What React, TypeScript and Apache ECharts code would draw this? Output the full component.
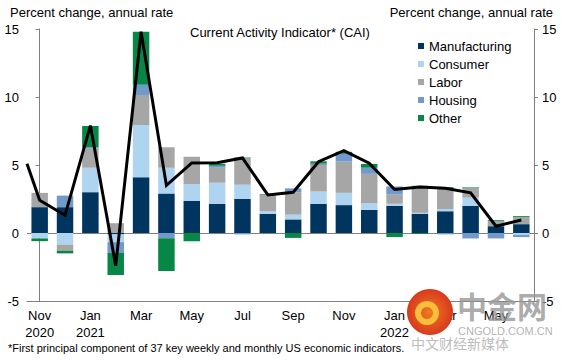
import React, { useEffect, useRef } from "react";
import * as echarts from "echarts";

const tickLabels = ["Nov\n2020", "Dec", "Jan\n2021", "Feb", "Mar", "Apr", "May", "Jun", "Jul", "Aug", "Sep", "Oct", "Nov", "Dec", "Jan\n2022", "Feb", "Mar", "Apr", "May", "Jun"];
const manufacturing = [1.9, 1.9, 3.0, -0.1, 4.1, 2.9, 2.35, 2.15, 2.5, 1.4, 1.0, 2.15, 2.05, 1.7, 2.0, 1.4, 1.6, 2.0, 0.5, 0.65];
const consumer = [-0.4, -0.85, 1.8, -0.57, 3.85, 1.9, 1.25, 1.55, 1.05, 0.2, 0.35, 0.9, 0.9, 0.5, 0.15, 0.08, 0.15, 0.6, 0, -0.15];
const labor = [1.05, -0.45, 1.4, 0.72, 2.2, 1.5, 2.0, 1.1, 1.95, 1.2, 1.65, 1.95, 2.3, 2.15, 0.67, 2.0, 1.55, 0.7, 0.37, 0.52];
const housing = [0, 0.85, 0.12, -0.8, 0.75, -0.38, 0, 0.15, -0.1, 0, 0.28, 0.1, 0.57, 0.45, 0.6, 0, -0.1, -0.4, -0.4, -0.15];
const other = [-0.2, -0.2, 1.55, -1.62, 3.9, -2.42, -0.6, 0.15, 0.05, 0.05, -0.36, 0.17, 0.15, 0.28, -0.3, -0.07, 0.07, 0.05, 0.07, 0.07];
const caiStart = 5.1; // value where the CAI line enters at the left edge
const cai = [2.4, 1.3, 7.9, -2.4, 14.8, 3.5, 5.15, 5.17, 5.52, 2.8, 3.0, 5.24, 6.06, 5.13, 3.2, 3.39, 3.29, 2.95, 0.5, 0.95];

const seriesNames = ["Manufacturing", "Consumer", "Labor", "Housing", "Other"];
const seriesData = [manufacturing, consumer, labor, housing, other];
const seriesColors = ["#00355F", "#AED4F0", "#A6A6A6", "#7199C9", "#078746"];

const FONT = "'Liberation Sans', Arial, sans-serif";

export default function App() {
  const ref = useRef<HTMLDivElement>(null);
  useEffect(() => {
    if (!ref.current) return;
    const chart = echarts.init(ref.current, null, { renderer: "svg" });
    const barSeries = seriesNames.map((name, i) => ({
      name,
      type: "bar",
      stack: "total",
      xAxisIndex: 0,
      yAxisIndex: 0,
      barCategoryGap: "35%",
      itemStyle: { color: seriesColors[i] },
      data: seriesData[i],
      z: 2,
      ...(i === 0
        ? {
            markLine: {
              silent: true,
              symbol: "none",
              label: { show: false },
              lineStyle: { color: "#808080", width: 1, type: "solid" },
              data: [{ yAxis: 0 }],
              z: 1,
            },
          }
        : {}),
    }));
    const lineData = [[-0.5, caiStart], ...cai.map((v, i) => [i, v])];
    chart.setOption({
      animation: false,
      textStyle: { fontFamily: FONT },
      grid: { left: 27, right: 29, top: 29, bottom: 60, containLabel: false },
      legend: {
        orient: "vertical",
        left: 418,
        top: 39.5,
        icon: "rect",
        itemWidth: 6,
        itemHeight: 6,
        itemGap: 5,
        padding: 0,
        selectedMode: false,
        data: seriesNames,
        textStyle: { fontSize: 13, color: "#000", fontFamily: FONT },
      },
      xAxis: [
        {
          type: "category",
          data: tickLabels,
          position: "bottom",
          boundaryGap: true,
          axisLine: { onZero: false, lineStyle: { color: "#808080", width: 1 } },
          axisTick: { interval: 0, length: 4, lineStyle: { color: "#808080" } },
          axisLabel: { interval: 1, fontSize: 13, lineHeight: 17, color: "#000", margin: 6, fontFamily: FONT },
          splitLine: { show: false },
        },
        { type: "value", min: -0.5, max: 19.5, show: false },
      ],
      yAxis: [
        {
          type: "value",
          min: -5,
          max: 15,
          interval: 5,
          position: "left",
          axisLine: { show: true, lineStyle: { color: "#808080" } },
          axisTick: { show: true, length: 4, lineStyle: { color: "#808080" } },
          axisLabel: { fontSize: 13, color: "#000", margin: 8, fontFamily: FONT },
          splitLine: { show: false },
        },
        {
          type: "value",
          min: -5,
          max: 15,
          interval: 5,
          position: "right",
          axisLine: { show: true, lineStyle: { color: "#808080" } },
          axisTick: { show: true, length: 4, lineStyle: { color: "#808080" } },
          axisLabel: { fontSize: 13, color: "#000", margin: 8, fontFamily: FONT },
          splitLine: { show: false },
        },
      ],
      series: [
        ...barSeries,
        {
          name: "CAI",
          type: "line",
          xAxisIndex: 1,
          yAxisIndex: 0,
          data: lineData,
          symbol: "none",
          z: 5,
          lineStyle: { color: "#000", width: 3, join: "miter" },
        },
      ],
      graphic: [
        { type: "text", left: 10, top: 6, style: { text: "Percent change, annual rate", fontSize: 13, fill: "#000", fontFamily: FONT } },
        { type: "text", right: 10, top: 6, style: { text: "Percent change, annual rate", fontSize: 13, fill: "#000", fontFamily: FONT } },
        { type: "text", left: 190, top: 26, style: { text: "Current Activity Indicator* (CAI)", fontSize: 13, fill: "#000", fontFamily: FONT } },
        { type: "text", left: 8, top: 342, style: { text: "*First principal component of 37 key weekly and monthly US economic indicators.", fontSize: 11, fill: "#000", fontFamily: FONT } },
        {
          type: "circle",
          shape: { cx: 430, cy: 312, r: 23 },
          style: {
            fill: new echarts.graphic.RadialGradient(0.5, 0.5, 0.5, [
              { offset: 0, color: "#F07A22" },
              { offset: 1, color: "#D8391C" },
            ]),
          },
          z: 100,
        },
        {
          type: "ring",
          shape: { cx: 427, cy: 313, r: 12, r0: 6 },
          style: { fill: "#F8C03A" },
          z: 101,
        },
        { type: "text", left: 457, top: 290, z: 100, style: { text: "中金网", fontSize: 30, fontWeight: "bold", fill: "rgba(150,150,150,0.8)", fontFamily: "'Noto Sans CJK SC', sans-serif" } },
        { type: "text", left: 458, top: 325, z: 100, style: { text: "CNGOLD.COM.CN", fontSize: 11, fill: "rgba(160,160,160,0.8)", fontFamily: FONT } },
        { type: "text", left: 411, top: 336, z: 100, style: { text: "中文财经新媒体", fontSize: 14, fill: "rgba(170,170,170,0.8)", fontFamily: "'Noto Sans CJK SC', sans-serif" } },
      ],
    });
    return () => chart.dispose();
  }, []);
  return <div ref={ref} style={{ width: 563, height: 361, position: "absolute", left: 0, top: 0 }} />;
}
